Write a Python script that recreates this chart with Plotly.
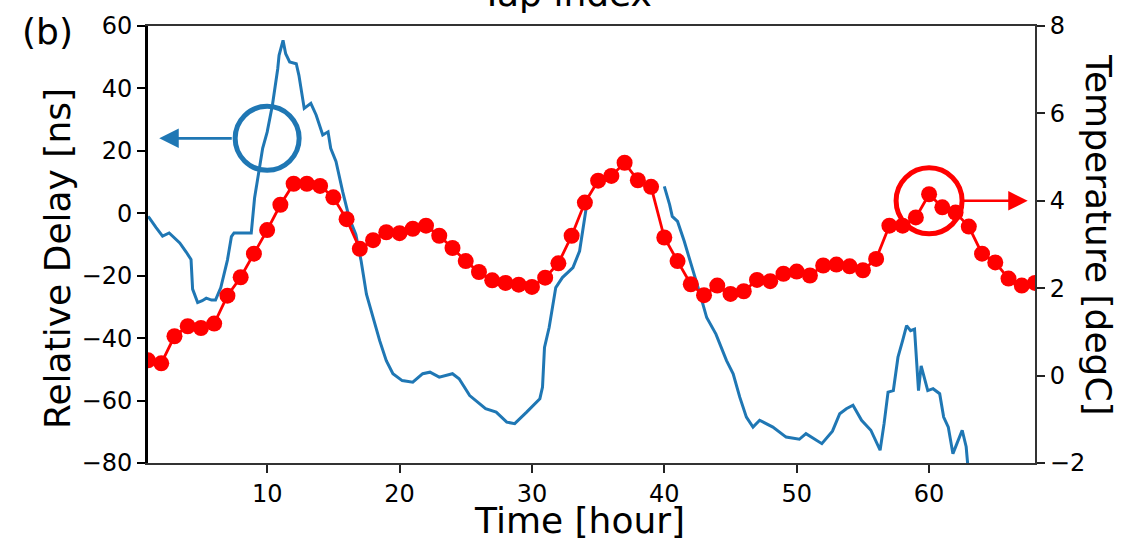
import plotly.graph_objects as go

# ---------------- data ----------------
hours_temp = list(range(1, 69))
temperature = [0.35, 0.28, 0.90, 1.13, 1.09, 1.19, 1.83, 2.25, 2.79, 3.33,
               3.91, 4.39, 4.39, 4.34, 4.08, 3.58, 2.90, 3.10, 3.28, 3.26,
               3.36, 3.43, 3.20, 2.92, 2.62, 2.37, 2.18, 2.12, 2.08, 2.03,
               2.24, 2.57, 3.20, 3.96, 4.46, 4.57, 4.87, 4.47, 4.32, 3.16,
               2.62, 2.09, 1.84, 2.06, 1.87, 1.93, 2.19, 2.16, 2.33, 2.38,
               2.29, 2.52, 2.54, 2.50, 2.41, 2.67, 3.43, 3.43, 3.62, 4.15,
               3.85, 3.73, 3.41, 2.79, 2.59, 2.22, 2.06, 2.12]

delay_time = [1.0, 1.1, 1.6, 2.1, 2.6, 3.0, 3.4, 3.9, 4.25, 4.37, 4.75, 5.1, 5.4, 5.8,
              6.1, 6.5, 7.0, 7.3, 7.5, 8.2, 8.8, 9.05, 9.66, 10.0, 10.4, 10.8, 10.9,
              11.2, 11.4, 11.7, 12.2, 12.4, 12.8, 13.3, 13.7, 14.2, 14.6, 14.8, 15.2,
              15.7, 16.2, 16.7, 17.1, 17.5, 18.0, 18.5, 19.0, 19.5, 20.2, 21.0, 21.75,
              22.3, 23.0, 24.0, 24.5, 25.3, 26.5, 27.3, 28.1, 28.7, 29.6, 30.6, 30.8,
              30.95, 31.3, 31.8, 32.3, 33.1, 33.6, 34.1,
              37.0,
              40.0, 40.4, 40.6, 41.0, 41.5, 42.2, 42.7, 43.2, 43.9, 44.7, 45.2, 45.7,
              46.2, 46.7, 47.2, 48.2, 49.2, 50.2, 50.7, 51.9, 52.7, 53.25, 53.75, 54.25,
              54.9, 55.6, 56.3, 56.6, 56.9, 57.3, 57.65, 58.0, 58.3, 58.6, 58.9, 59.2,
              59.4, 59.9, 60.3, 60.8, 61.1, 61.45, 61.8, 62.1, 62.5, 62.8, 62.95]
relative_delay = [-1.0, -1.5, -4.5, -7.3, -6.3, -8.0, -9.5, -12.5, -14.8, -24.3, -28.6, -28.0,
                  -27.2, -27.8, -27.8, -23.8, -15.0, -7.5, -6.3, -6.3, -6.3, 4.9, 20.8, 26.0,
                  34.7, 46.3, 50.6, 55.4, 51.1, 48.5, 47.9, 44.2, 33.6, 35.2, 31.5, 25.1,
                  26.1, 20.8, 16.6, 7.0, -1.5, -6.8, -15.3, -25.9, -33.4, -40.8, -47.2,
                  -51.4, -53.6, -54.1, -51.4, -50.9, -52.5, -51.4, -53.0, -58.4, -62.6,
                  -63.7, -66.9, -67.4, -63.7, -59.4, -55.7, -43.0, -36.6, -23.8, -20.6,
                  -17.4, -12.1, 1.7,
                  None,
                  8.6, 2.8, -1.0, -2.6, -8.9, -18.5, -25.9, -33.4, -38.7, -47.2, -51.4,
                  -58.9, -65.3, -68.5, -66.3, -68.5, -71.7, -72.4, -70.6, -73.8, -69.8,
                  -64.2, -62.6, -61.5, -66.3, -69.5, -75.9, -67.4, -57.3, -56.8, -46.1,
                  -40.8, -36.0, -37.6, -37.1, -56.8, -48.9, -56.8, -56.2, -57.8, -65.3,
                  -68.5, -77.0, -73.8, -69.5, -74.8, -82.0]

x_ticks = [10, 20, 30, 40, 50, 60]
delay_ticks = [-80, -60, -40, -20, 0, 20, 40, 60]
temp_ticks = [-2, 0, 2, 4, 6, 8]

# annotation anchors (data coords)
blue_mark = (10.0, 24.0)
red_mark = (60.0, 4.0)

BLUE = "#1f77b4"
RED = "#ff0000"
FONT = "DejaVu Sans"

fig = go.Figure()
fig.add_trace(go.Scatter(x=delay_time, y=relative_delay, mode="lines",
                         line=dict(color=BLUE, width=3), connectgaps=False,
                         yaxis="y", showlegend=False))
fig.add_trace(go.Scatter(x=hours_temp, y=temperature, mode="lines+markers",
                         line=dict(color=RED, width=2.8),
                         marker=dict(color=RED, size=16),
                         yaxis="y2", showlegend=False))

fig.update_layout(
    width=1127, height=541,
    margin=dict(l=148, r=92, t=24, b=78),
    paper_bgcolor="white", plot_bgcolor="white",
    font=dict(family=FONT, size=24, color="black"),
    xaxis=dict(range=[1, 68], tickvals=x_ticks, ticks="outside", ticklen=8, tickwidth=2,
               tickcolor="#222", showline=True, linecolor="#333", linewidth=2,
               mirror=True, showgrid=False, zeroline=False,
               tickfont=dict(size=24, family=FONT)),
    yaxis=dict(range=[-80, 60], tickvals=delay_ticks, ticks="outside", ticklen=8,
               tickwidth=2, tickcolor="black", showline=True, linecolor="black",
               linewidth=3, showgrid=False, zeroline=False,
               tickfont=dict(size=24, family=FONT)),
    yaxis2=dict(range=[-2, 8], tickvals=temp_ticks, ticks="outside", ticklen=8,
                tickwidth=2, tickcolor="#222", overlaying="y", side="right",
                showline=True, linecolor="#333", linewidth=2, showgrid=False,
                zeroline=False, tickfont=dict(size=24, family=FONT)),
)

# circles
fig.add_shape(type="circle", xref="x", yref="y", xsizemode="pixel", ysizemode="pixel",
              xanchor=blue_mark[0], yanchor=blue_mark[1], x0=-32, x1=32, y0=-32, y1=32,
              line=dict(color=BLUE, width=5), layer="above")
fig.add_shape(type="circle", xref="x", yref="y2", xsizemode="pixel", ysizemode="pixel",
              xanchor=red_mark[0], yanchor=red_mark[1], x0=-33, x1=33, y0=-33, y1=33,
              line=dict(color=RED, width=5), layer="above")

# arrows
fig.add_annotation(x=1.85, y=blue_mark[1], xref="x", yref="y", ax=74, ay=0,
                   showarrow=True, arrowhead=2, arrowsize=1.5, arrowwidth=2.6,
                   arrowcolor=BLUE, text="", standoff=0)
fig.add_annotation(x=67.45, y=red_mark[1], xref="x", yref="y2", ax=-66, ay=0,
                   showarrow=True, arrowhead=2, arrowsize=1.5, arrowwidth=2.6,
                   arrowcolor=RED, text="", standoff=0)

# texts
fig.add_annotation(text="(b)", xref="paper", yref="paper", x=(20 - 148) / 887,
                   y=1 + (24 - 30) / 439, xanchor="left", yanchor="middle",
                   showarrow=False, font=dict(size=36, family=FONT))
fig.add_annotation(text="Tap index", xref="paper", yref="paper", x=(566 - 148) / 887,
                   y=1 + (24 - 14) / 439, xanchor="center", yanchor="bottom",
                   showarrow=False, font=dict(size=36, family=FONT))
fig.add_annotation(text="Relative Delay [ns]", xref="paper", yref="paper",
                   x=(58 - 148) / 887, y=(463 - 258) / 439, xanchor="center",
                   yanchor="middle", textangle=-90, showarrow=False,
                   font=dict(size=36, family=FONT))
fig.add_annotation(text="Temperature [degC]", xref="paper", yref="paper",
                   x=1 + (1099 - 1035) / 887, y=(463 - 234) / 439, xanchor="center",
                   yanchor="middle", textangle=90, showarrow=False,
                   font=dict(size=36, family=FONT))
fig.add_annotation(text="Time [hour]", xref="paper", yref="paper",
                   x=(579 - 148) / 887, y=(463 - 521) / 439, xanchor="center",
                   yanchor="middle", showarrow=False, font=dict(size=36, family=FONT))

fig.write_html("out.html")
